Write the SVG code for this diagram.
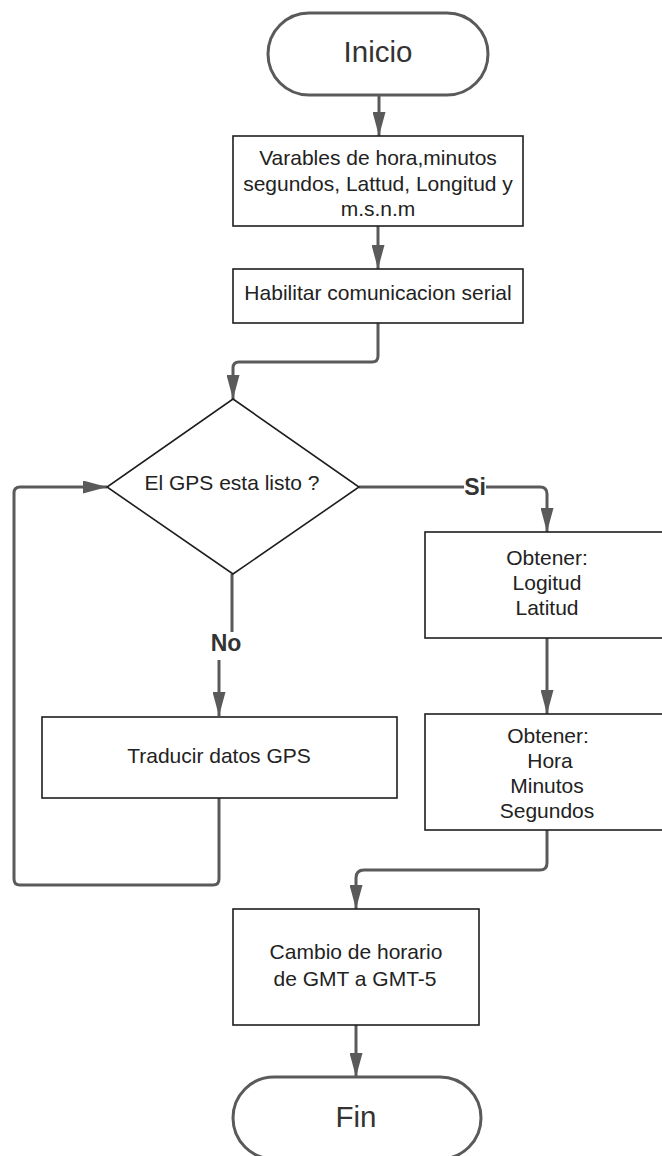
<svg xmlns="http://www.w3.org/2000/svg" width="662" height="1156" viewBox="0 0 662 1156">
<style>
  .box { fill: #ffffff; stroke: #1e1e1e; stroke-width: 1.6; }
  .term { fill: #ffffff; stroke: #5a5a5a; stroke-width: 3; }
  .conn { fill: none; stroke: #5a5a5a; stroke-width: 3; }
  .arrow { marker-end: url(#ah); }
  text { font-family: "Liberation Sans", Arial, sans-serif; fill: #222222; text-anchor: middle; }
  .t { font-size: 21px; }
  .big { font-size: 29.5px; fill: #333333; }
  .lbl { font-size: 23px; font-weight: bold; fill: #333333; }
</style>
<defs>
  <marker id="ah" viewBox="0 0 24 13" refX="24" refY="6.5" markerWidth="24" markerHeight="13" markerUnits="userSpaceOnUse" orient="auto">
    <path d="M0,0 L24,6.5 L0,13 Z" fill="#5a5a5a"/>
  </marker>
</defs>
<rect x="0" y="0" width="662" height="1156" fill="#ffffff"/>

<g id="connectors">
  <path class="conn arrow" d="M379,95 V136"/>
  <path class="conn arrow" d="M378,226 V269"/>
  <path class="conn arrow" d="M378,323 V356 Q378,362 372,362 H239 Q233,362 233,368 V399"/>
  <path class="conn arrow" d="M359,487 H540 Q547,487 547,494 V532"/>
  <path class="conn arrow" d="M232,574 V632 M219,660 V716"/>
  <path class="conn arrow" d="M219,798 V879 Q219,885 213,885 H20 Q14,885 14,879 V493 Q14,487 20,487 H107"/>
  <path class="conn arrow" d="M547,638 V714"/>
  <path class="conn arrow" d="M547,830 V863 Q547,870 540,870 H364 Q356,870 356,878 V909"/>
  <path class="conn arrow" d="M356,1025 V1077"/>
  <rect x="464" y="474" width="22" height="24" fill="#ffffff"/>
  <text class="lbl" x="475" y="495">Si</text>
  <text class="lbl" x="226" y="651">No</text>
</g>

<g id="inicio">
  <rect class="term" x="268" y="13" width="220" height="82" rx="41" ry="41"/>
  <text class="big" x="378" y="62">Inicio</text>
</g>

<g id="variables">
  <rect class="box" x="233" y="136" width="290" height="90"/>
  <text class="t" x="378" y="165">Varables de hora,minutos</text>
  <text class="t" x="378" y="191">segundos, Lattud, Longitud y</text>
  <text class="t" x="378" y="216">m.s.n.m</text>
</g>

<g id="habilitar">
  <rect class="box" x="233" y="269" width="290" height="54"/>
  <text class="t" x="378" y="300">Habilitar comunicacion serial</text>
</g>

<g id="decision">
  <polygon class="box" points="233,399 359,487 233,574 107,487"/>
  <text class="t" x="232" y="490">El GPS esta listo ?</text>
</g>

<g id="obtener-pos">
  <rect class="box" x="425" y="532" width="244" height="106"/>
  <text class="t" x="547" y="565">Obtener:</text>
  <text class="t" x="547" y="590">Logitud</text>
  <text class="t" x="547" y="615">Latitud</text>
</g>

<g id="traducir">
  <rect class="box" x="42" y="717" width="355" height="81"/>
  <text class="t" x="219" y="763">Traducir datos GPS</text>
</g>

<g id="obtener-hora">
  <rect class="box" x="425" y="714" width="244" height="116"/>
  <text class="t" x="548" y="743">Obtener:</text>
  <text class="t" x="550" y="768">Hora</text>
  <text class="t" x="547" y="793">Minutos</text>
  <text class="t" x="547" y="818">Segundos</text>
</g>

<g id="cambio">
  <rect class="box" x="233" y="909" width="246" height="116"/>
  <text class="t" x="356" y="959">Cambio de horario</text>
  <text class="t" x="355" y="986">de GMT a GMT-5</text>
</g>

<g id="fin">
  <rect class="term" x="233" y="1077" width="248" height="82" rx="41" ry="41"/>
  <text class="big" x="356" y="1127">Fin</text>
</g>
</svg>
